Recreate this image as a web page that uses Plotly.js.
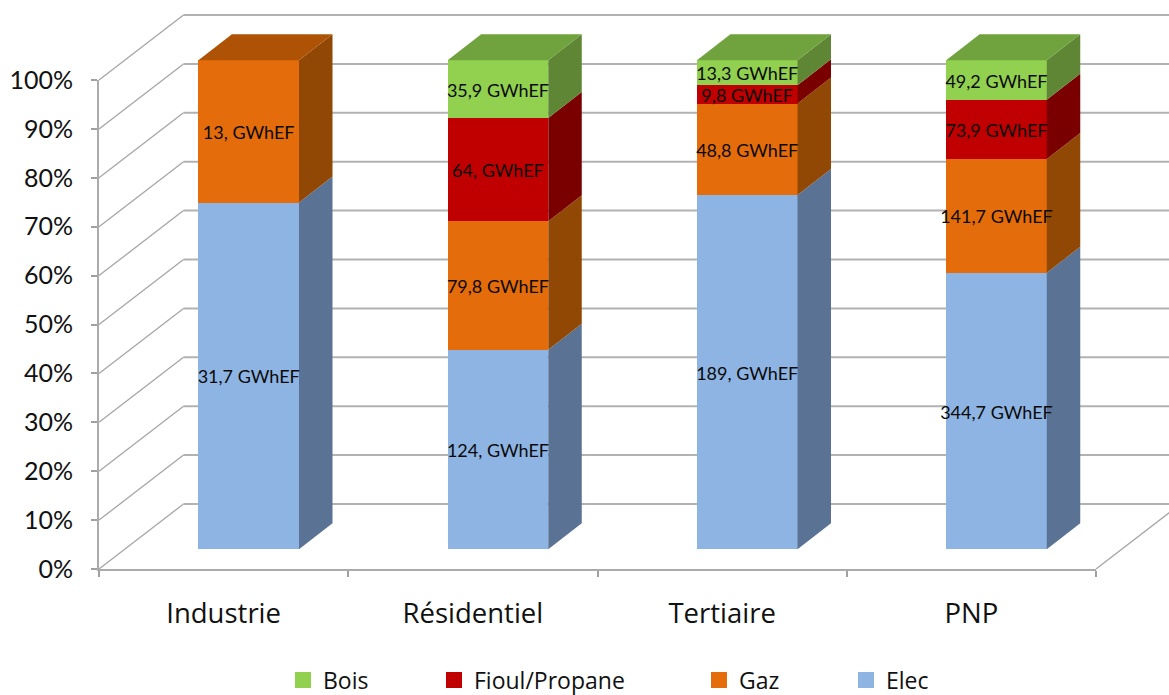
<!DOCTYPE html>
<html>
<head>
<meta charset="utf-8">
<script src="https://cdn.plot.ly/plotly-3.0.1.min.js"></script>
<style>html,body{margin:0;padding:0;background:#fff;overflow:hidden}#chart{width:1169px;height:695px}</style>
</head>
<body>
<div id="chart"></div>
<script>
const categories = ['Industrie', 'Résidentiel', 'Tertiaire', 'PNP'];
const elec  = [31.7, 124, 189, 344.7];
const gaz   = [13, 79.8, 48.8, 141.7];
const fioul = [0, 64, 9.8, 73.9];
const bois  = [0, 35.9, 13.3, 49.2];
const elecLabels  = ['31,7 GWhEF', '124, GWhEF', '189, GWhEF', '344,7 GWhEF'];
const gazLabels   = ['13, GWhEF', '79,8 GWhEF', '48,8 GWhEF', '141,7 GWhEF'];
const fioulLabels = ['', '64, GWhEF', '9,8 GWhEF', '73,9 GWhEF'];
const boisLabels  = ['', '35,9 GWhEF', '13,3 GWhEF', '49,2 GWhEF'];
const yTicks = [0, 10, 20, 30, 40, 50, 60, 70, 80, 90, 100];

const W = 1169, H = 695;
const L = 99, R = 1096, T = 80, B = 569;
const unitX = (R - L) / 4, unitY = (B - T) / 100;
const px = v => v / unitX, py = v => v / unitY;

const wallDX = px(84.5), wallDY = py(65);
const barDX = px(33.5), barDY = py(26);
const barW = 100.6 / unitX;
const barCentre0 = 248.7, barBase = 549.3;
const labelDrop = py(3);

const seriesDefs = [
  {name: 'Elec', vals: elec, labels: elecLabels, front: '#8EB4E3', side: '#5A7394', top: '#71905C'},
  {name: 'Gaz', vals: gaz, labels: gazLabels, front: '#E46C0A', side: '#924805', top: '#AE5306'},
  {name: 'Fioul/Propane', vals: fioul, labels: fioulLabels, front: '#C00000', side: '#7A0000', top: '#900000'},
  {name: 'Bois', vals: bois, labels: boisLabels, front: '#92D050', side: '#5F8635', top: '#70A33E'}
];
const totals = categories.map((_, i) => seriesDefs.reduce((s, d) => s + d.vals[i], 0));
const xIdx = categories.map((_, i) => i);

const traces = [];

// Chart walls and floor: full-page axes in front-plane units
const backX = [], backY = [], diagX = [], diagY = [];
yTicks.forEach(v => {
  diagX.push(0, wallDX, null);
  diagY.push(v, v + wallDY, null);
  backX.push(wallDX, 4 + wallDX, null);
  backY.push(v + wallDY, v + wallDY, null);
});
diagX.push(4, 4 + wallDX, null);
diagY.push(0, wallDY, null);
traces.push({type: 'scatter', mode: 'lines', x: backX, y: backY, xaxis: 'x2', yaxis: 'y2',
  line: {color: '#B2B2B2', width: 2}, showlegend: false, hoverinfo: 'skip'});
traces.push({type: 'scatter', mode: 'lines', x: diagX, y: diagY, xaxis: 'x2', yaxis: 'y2',
  line: {color: '#A6A6A6', width: 1.3}, showlegend: false, hoverinfo: 'skip'});

// Front faces
seriesDefs.forEach(d => {
  traces.push({type: 'bar', name: d.name, x: xIdx, y: d.vals, xaxis: 'x3', yaxis: 'y3',
    width: barW, marker: {color: d.front, line: {width: 0}}, showlegend: false});
});

// Side and top faces derived from the shares, then the value labels above everything
const base = categories.map(() => 0);
const labelTraces = [];
seriesDefs.forEach((d, s) => {
  const sx = [], sy = [], tx = [], ty = [], lx = [], ly = [], lt = [];
  categories.forEach((_, i) => {
    const y0 = base[i], y1 = y0 + 100 * d.vals[i] / totals[i];
    base[i] = y1;
    if (d.vals[i] <= 0) return;
    const r = i + barW / 2, l = i - barW / 2;
    sx.push(r, r + barDX, r + barDX, r, r, null);
    sy.push(y0, y0 + barDY, y1 + barDY, y1, y0, null);
    const isTop = seriesDefs.slice(s + 1).every(o => o.vals[i] <= 0);
    if (isTop) {
      tx.push(l, l + barDX, r + barDX, r, l, null);
      ty.push(y1, y1 + barDY, y1 + barDY, y1, y1, null);
    }
    lx.push(i); ly.push((y0 + y1) / 2 - labelDrop); lt.push(d.labels[i]);
  });
  traces.push({type: 'scatter', mode: 'lines', x: sx, y: sy, xaxis: 'x3', yaxis: 'y3', fill: 'toself',
    fillcolor: d.side, line: {width: 0}, showlegend: false, hoverinfo: 'skip'});
  if (tx.length) traces.push({type: 'scatter', mode: 'lines', x: tx, y: ty, xaxis: 'x3', yaxis: 'y3', fill: 'toself',
    fillcolor: d.top, line: {width: 0}, showlegend: false, hoverinfo: 'skip'});
  labelTraces.push({type: 'scatter', mode: 'text', x: lx, y: ly, text: lt, textposition: 'middle center',
    xaxis: 'x3', yaxis: 'y3', showlegend: false, hoverinfo: 'skip',
    textfont: {family: 'Lato, sans-serif', size: 18, color: '#0a0a0a'}});
});
traces.push(...labelTraces);

// Legend keys, each in its own legend so that the entries sit where the reference has them
const legendOrder = [
  {d: seriesDefs[3], at: 283, key: 'legend'},
  {d: seriesDefs[2], at: 434, key: 'legend2'},
  {d: seriesDefs[1], at: 699, key: 'legend3'},
  {d: seriesDefs[0], at: 846, key: 'legend4'}
];
legendOrder.forEach(o => {
  traces.push({type: 'scatter', mode: 'markers', name: o.d.name, x: [null], y: [null], xaxis: 'x', yaxis: 'y',
    marker: {symbol: 'square', size: 16, color: o.d.front}, legend: o.key,
    showlegend: true, hoverinfo: 'skip'});
});

const legendFont = {family: '"Open Sans", sans-serif', size: 23, color: '#111'};
const layout = {
  width: W, height: H,
  margin: {l: 0, r: 0, t: 0, b: 0, pad: 0, autoexpand: false},
  paper_bgcolor: '#fff', plot_bgcolor: 'rgba(0,0,0,0)',
  barmode: 'stack', barnorm: 'percent',
  xaxis: {
    type: 'linear', domain: [L / W, R / W], range: [0, 4], tickmode: 'array',
    tickvals: categories.map((_, i) => i + 0.5), ticktext: categories,
    ticks: 'outside', ticklen: 1, tickcolor: 'rgba(0,0,0,0)', ticklabelstandoff: 18,
    minor: {tickmode: 'array', tickvals: [0, 1, 2, 3, 4], ticks: 'outside', ticklen: 6, tickwidth: 1.5, tickcolor: '#A0A0A0', showgrid: false},
    showline: true, linecolor: '#ABABAB', linewidth: 2, showgrid: false, zeroline: false,
    tickfont: {family: '"Open Sans", sans-serif', size: 27.5, color: '#111'}
  },
  yaxis: {
    type: 'linear', domain: [(H - B) / H, (H - T) / H], range: [0, 100], tickmode: 'array', tickvals: yTicks,
    ticktext: yTicks.map(v => v + '%'),
    ticks: 'outside', ticklen: 6, tickwidth: 1.5, tickcolor: '#A0A0A0', ticklabelstandoff: 13,
    showline: true, linecolor: '#ABABAB', linewidth: 2, showgrid: false, zeroline: false,
    tickfont: {family: 'Lato, sans-serif', size: 25, color: '#111'}
  },
  xaxis2: {type: 'linear', domain: [0, 1], range: [-L * 4 / (R - L), (W - L) * 4 / (R - L)], visible: false, anchor: 'y2'},
  yaxis2: {type: 'linear', domain: [0, 1], range: [-(H - B) / unitY, B / unitY], visible: false, anchor: 'x2'},
  xaxis3: {type: 'linear', overlaying: 'x2', range: [-barCentre0 / unitX, (W - barCentre0) / unitX], visible: false, anchor: 'y3'},
  yaxis3: {type: 'linear', overlaying: 'y2', range: [-(H - barBase) / unitY, barBase / unitY], visible: false, anchor: 'x3'},
  showlegend: true
};
legendOrder.forEach(o => {
  layout[o.key] = {xref: 'container', yref: 'container', x: o.at / W, y: (H - 680) / H,
    xanchor: 'left', yanchor: 'middle', orientation: 'v', bgcolor: 'rgba(0,0,0,0)', borderwidth: 0,
    font: legendFont, itemclick: false, itemdoubleclick: false};
});

Plotly.newPlot('chart', traces, layout, {displayModeBar: false, responsive: false});
</script>
</body>
</html>
